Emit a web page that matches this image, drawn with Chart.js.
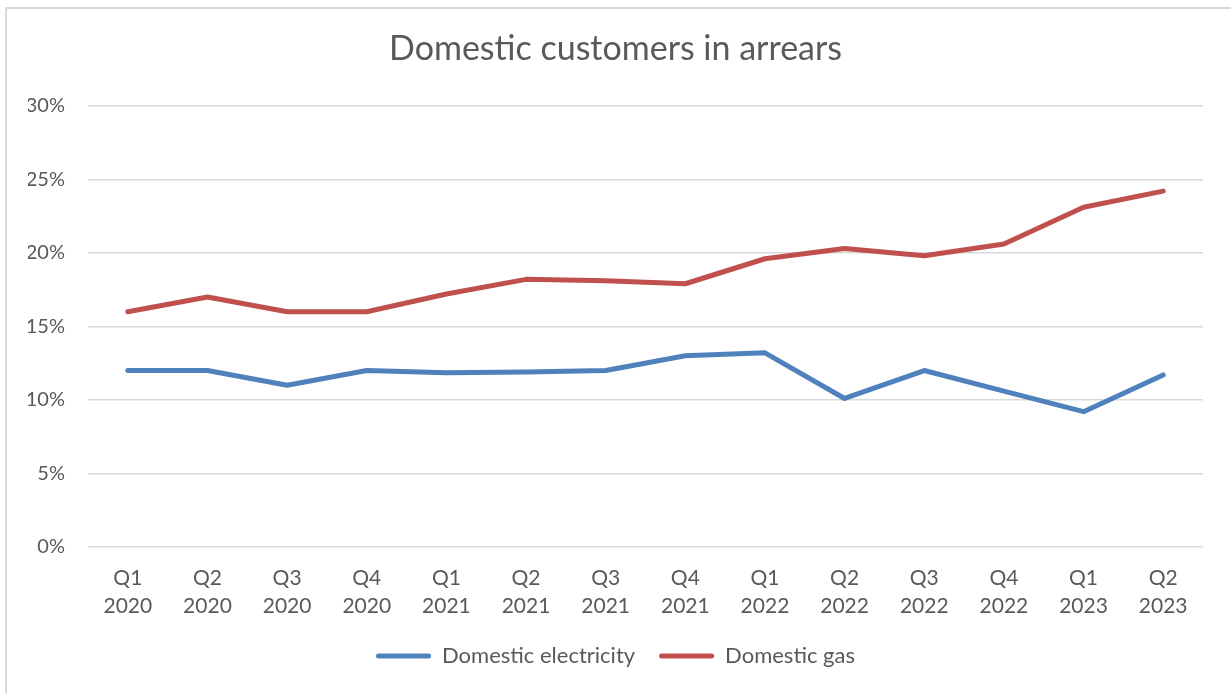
<!DOCTYPE html>
<html>
<head>
<meta charset="utf-8">
<script src="https://cdn.jsdelivr.net/npm/chart.js@4"></script>
<style>
  html, body { margin: 0; padding: 0; background: #fff; overflow: hidden; }
  #frame { position: absolute; left: 5px; top: 7px; width: 1240px; height: 700px; border: 2px solid #d9d9d9; box-sizing: border-box; }
  #wrap { position: absolute; left: 0; top: 0; width: 1231px; height: 693px; }
</style>
</head>
<body>
<div id="frame"></div>
<div id="wrap"><canvas id="myChart"></canvas></div>
<script>
let quarters = [
  ["Q1", "2020"], ["Q2", "2020"], ["Q3", "2020"], ["Q4", "2020"],
  ["Q1", "2021"], ["Q2", "2021"], ["Q3", "2021"], ["Q4", "2021"],
  ["Q1", "2022"], ["Q2", "2022"], ["Q3", "2022"], ["Q4", "2022"],
  ["Q1", "2023"], ["Q2", "2023"],
];
let electricity = [12, 12, 11, 12, 11.85, 11.9, 12, 13, 13.2, 10.1, 12, 10.6, 9.2, 11.7];
let gas = [16, 17, 16, 16, 17.2, 18.2, 18.1, 17.9, 19.6, 20.3, 19.8, 20.6, 23.1, 24.2];
let seriesNames = ["Domestic electricity", "Domestic gas"];
let yTicks = [0, 5, 10, 15, 20, 25, 30];

let blue = "#4f81bd";
let red = "#c0504d";
let textColor = "#595959";
let fontName = "Lato, 'Open Sans', sans-serif";

let init = () => {
  let ctx = document.getElementById("myChart");
  const data = {
    labels: quarters,
    datasets: [
      { label: seriesNames[0], data: electricity, borderColor: blue, backgroundColor: blue },
      { label: seriesNames[1], data: gas, borderColor: red, backgroundColor: red },
    ],
  };

  const config = {
    type: "line",
    data,
    options: {
      responsive: true,
      maintainAspectRatio: false,
      animation: false,
      layout: { padding: { left: 28, right: 28, top: 0, bottom: 16 } },
      elements: {
        line: { borderWidth: 5, tension: 0, borderCapStyle: "round", borderJoinStyle: "round" },
        point: { radius: 0, hoverRadius: 0 },
      },
      plugins: {
        tooltip: { enabled: false },
        title: {
          display: true,
          text: "Domestic customers in arrears",
          color: textColor,
          font: { family: fontName, size: 34, weight: "normal" },
          padding: { top: 29, bottom: 36 },
        },
        legend: {
          position: "bottom",
          labels: {
            color: textColor,
            font: { family: fontName, size: 22 },
            boxWidth: 55,
            boxHeight: 5,
            padding: 24,
            useBorderRadius: true,
            borderRadius: 2.5,
            generateLabels: (chart) => {
              let items = Chart.defaults.plugins.legend.labels.generateLabels(chart);
              items.forEach((it) => { it.lineWidth = 0; });
              return items;
            },
          },
        },
      },
      scales: {
        x: {
          offset: true,
          grid: { display: false, offset: true },
          border: { display: false },
          ticks: {
            color: textColor,
            font: { family: fontName, size: 21, lineHeight: 1.35 },
            padding: 9,
            maxRotation: 0,
            autoSkip: false,
          },
          afterFit: (scale) => { scale.height = 74; },
        },
        y: {
          min: 0,
          max: 30,
          afterBuildTicks: (scale) => { scale.ticks = yTicks.map((v) => ({ value: v })); },
          grid: { color: "#d9d9d9", lineWidth: 1.5, drawTicks: false },
          border: { display: false },
          ticks: {
            color: textColor,
            font: { family: fontName, size: 20 },
            padding: 23,
            callback: (v) => v + "%",
          },
          afterFit: (scale) => { scale.width = 60; },
        },
      },
    },
  };
  new Chart(ctx, config);
};
window.onload = init;
</script>
</body>
</html>
